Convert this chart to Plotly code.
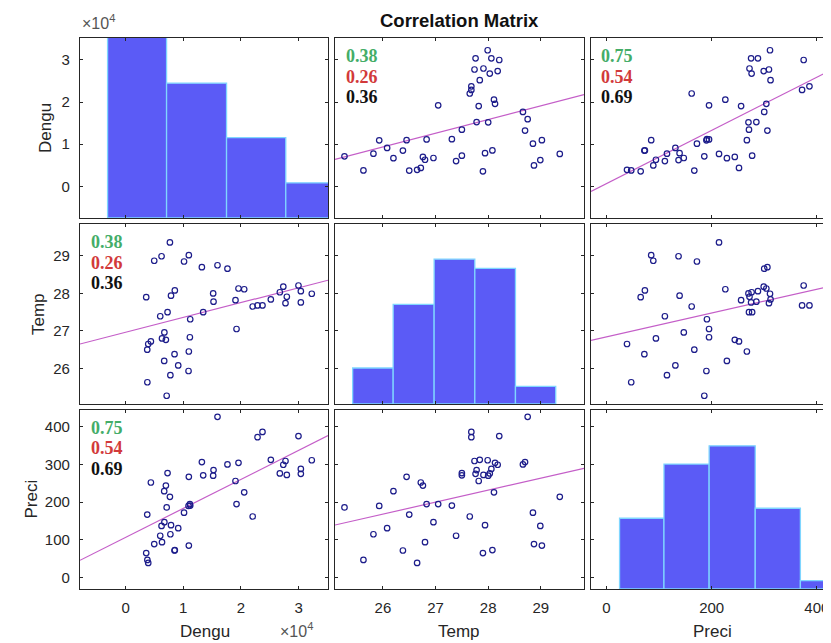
import numpy as np
import plotly.graph_objects as go

# ---------------- data ----------------
dengu = [15940, 22880, 23740, 29980, 25190, 27730, 27350, 32290, 26750, 27960,
         30390, 30390, 13230, 17670, 19580, 15250, 15190, 13460, 10970, 7280,
         4390, 6990, 6700, 7690, 19060, 20570, 19240, 11150, 11210, 10140,
         7130, 22040, 3760, 6730, 6240, 7880, 9130, 6010, 7770, 4970,
         6320, 10970, 8490, 8540, 3580, 3780, 3930, 10920]
temp = [28.75, 27.68, 27.68, 28.21, 27.84, 27.74, 28.18, 27.99, 28.03, 27.91,
        28.06, 27.76, 28.70, 28.66, 28.13, 27.78, 28.00, 27.50, 26.45, 27.50,
        26.72, 26.76, 26.20, 29.36, 27.82, 28.11, 27.05, 26.83, 27.31, 28.85,
        25.27, 27.65, 26.50, 26.96, 28.99, 27.94, 26.08, 27.39, 25.82, 28.87,
        26.80, 29.02, 26.38, 28.08, 27.90, 25.63, 26.65, 25.93]
preci = [426, 372, 386, 375, 312, 309, 299, 311, 276, 272,
         288, 275, 306, 300, 304, 285, 270, 271, 267, 277,
         252, 244, 229, 214, 256, 226, 195, 195, 191, 172,
         186, 162, 167, 147, 137, 139, 131, 111, 115, 89,
         94, 85, 72, 73, 65, 47, 39, 190]

var_names = ["Dengu", "Temp", "Preci"]

# histogram bins (edges) and bar heights shown on the diagonal
dengu_hist_edges = [-3120, 7110, 17510, 27780, 38100]
dengu_hist_counts = [22.5, 16.1, 9.6, 4.2]
temp_hist_edges = [25.425, 26.195, 26.973, 27.746, 28.518, 29.283]
temp_hist_counts = [4.3, 11.9, 17.3, 16.2, 2.1]
preci_hist_edges = [24.8, 109.3, 195.2, 282.9, 368.8, 454.0]
preci_hist_counts = [8.5, 15.0, 17.2, 9.7, 1.0]

# correlation coefficients written in the Dengu panels (green, red, black)
corr_dengu_temp = ["0.38", "0.26", "0.36"]
corr_dengu_preci = ["0.75", "0.54", "0.69"]

# tick labels
dengu_ticks = [0, 10000, 20000, 30000]
dengu_ticktext = ["0", "1", "2", "3"]
temp_ticks = [26, 27, 28, 29]
temp_ticktext = ["26", "27", "28", "29"]
preci_xticks = [0, 200, 400]
preci_yticks = [0, 100, 200, 300, 400]

# ---------------- layout / styling ----------------
OFF = 8                      # page body margin
W, H = 831 - OFF, 643 - OFF  # figure size


def fx(px):
    return (px - OFF) / W


def fy(py):
    return 1 - (py - OFF) / H


col_px = [(80, 328), (335, 584), (591, 831)]
row_px = [(38, 218), (224, 404), (410, 589)]
x_ranges = [[-7900, 35100], [25.09, 29.82], [-29.5, 427]]
y_ranges = [[-7500, 35200], [25.05, 29.85], [-30, 444]]
x_tick = [(dengu_ticks, dengu_ticktext), (temp_ticks, temp_ticktext),
          (preci_xticks, [str(v) for v in preci_xticks])]
y_tick = [(dengu_ticks, dengu_ticktext), (temp_ticks, temp_ticktext),
          (preci_yticks, [str(v) for v in preci_yticks])]
data = [np.array(dengu, float), np.array(temp, float), np.array(preci, float)]
hists = [(dengu_hist_edges, dengu_hist_counts), (temp_hist_edges, temp_hist_counts),
         (preci_hist_edges, preci_hist_counts)]

LC = "#262626"
TICKFONT = dict(family="Liberation Sans, Arial, sans-serif", size=15, color=LC)
MARK = "#1c1c8a"
LINE = "#c45ec8"
FILL = "#5b5bf6"
EDGE = "#7fd6ff"
HIST_MAX = 21.5


def sfx(k):
    return "" if k == 1 else str(k)


fig = go.Figure()
layout = dict(width=W, height=H, margin=dict(l=0, r=0, t=0, b=0),
              plot_bgcolor="white", paper_bgcolor="white", showlegend=False)
annotations = []

for r in range(3):
    for c in range(3):
        k = r * 3 + c + 1
        xa = dict(domain=[fx(col_px[c][0]), min(1.0, fx(col_px[c][1]))], range=x_ranges[c],
                  anchor="y" + sfx(k), showline=True, linecolor=LC, linewidth=1.2,
                  mirror="ticks", ticks="inside", ticklen=3, tickcolor=LC, tickwidth=1,
                  tickvals=x_tick[c][0], ticktext=x_tick[c][1],
                  showticklabels=(r == 2), showgrid=False, zeroline=False,
                  tickfont=TICKFONT, ticklabelstandoff=5)
        ya = dict(domain=[fy(row_px[r][1]), fy(row_px[r][0])], range=y_ranges[r],
                  anchor="x" + sfx(k), showline=True, linecolor=LC, linewidth=1.2,
                  mirror=("ticks" if c < 2 else False), ticks="inside", ticklen=3,
                  tickcolor=LC, tickwidth=1,
                  tickvals=y_tick[r][0], ticktext=y_tick[r][1],
                  showticklabels=(c == 0), showgrid=False, zeroline=False,
                  tickfont=TICKFONT, ticklabelstandoff=6)
        layout["xaxis" + sfx(k)] = xa
        layout["yaxis" + sfx(k)] = ya

        if r == c:
            fig.add_trace(go.Scatter(x=[], y=[], xaxis="x" + sfx(k), yaxis="y" + sfx(k),
                                     hoverinfo="skip"))
            hid = 10 + r
            edges, counts = hists[r]
            edges = np.array(edges, float)
            centers = (edges[:-1] + edges[1:]) / 2
            widths = np.diff(edges)
            fig.add_trace(go.Bar(x=centers, y=counts, width=widths,
                                 xaxis="x" + sfx(k), yaxis="y" + str(hid),
                                 marker=dict(color=FILL, line=dict(color=EDGE, width=1.3))))
            layout["yaxis" + str(hid)] = dict(overlaying="y" + sfx(k), anchor="x" + sfx(k),
                                              range=[0, HIST_MAX], visible=False)
        else:
            xv, yv = data[c], data[r]
            b, a = np.polyfit(xv, yv, 1)
            xs = np.array([x_ranges[c][0], max(x_ranges[c][1], xv.max())])
            fig.add_trace(go.Scatter(x=xs, y=a + b * xs, mode="lines",
                                     xaxis="x" + sfx(k), yaxis="y" + sfx(k),
                                     line=dict(color=LINE, width=1.2)))
            fig.add_trace(go.Scatter(x=xv, y=yv, mode="markers",
                                     xaxis="x" + sfx(k), yaxis="y" + sfx(k),
                                     marker=dict(symbol="circle-open", size=5.5,
                                                 color=MARK, line=dict(width=1.2, color=MARK))))

# correlation texts
corr_panels = {(0, 1): corr_dengu_temp, (0, 2): corr_dengu_preci,
               (1, 0): corr_dengu_temp, (2, 0): corr_dengu_preci}
corr_colors = ["#44ad68", "#d23a3a", "#111111"]
for (r, c), vals in corr_panels.items():
    k = r * 3 + c + 1
    for i, (v, col) in enumerate(zip(vals, corr_colors)):
        annotations.append(dict(text="<b>%s</b>" % v, xref="x%s domain" % sfx(k),
                                yref="y%s domain" % sfx(k), x=0.035, y=0.90 - i * 0.115,
                                xanchor="left", yanchor="middle", showarrow=False,
                                font=dict(family="Liberation Serif, Times New Roman, serif",
                                          size=18, color=col)))

LABFONT = dict(family="Liberation Sans, Arial, sans-serif", size=17, color=LC)
ylab_x = [45, 38, 31]
for r in range(3):
    annotations.append(dict(text=var_names[r], xref="paper", yref="paper",
                            x=fx(ylab_x[r]), y=fy((row_px[r][0] + row_px[r][1]) / 2),
                            textangle=-90, showarrow=False, xanchor="center", yanchor="middle",
                            font=LABFONT))
xlab_x = [205, 459, 712]
for c in range(3):
    annotations.append(dict(text=var_names[c], xref="paper", yref="paper",
                            x=fx(xlab_x[c]), y=fy(631), showarrow=False,
                            xanchor="center", yanchor="middle", font=LABFONT))
EXPFONT = dict(family="Liberation Sans, Arial, sans-serif", size=16, color="#555555")
annotations.append(dict(text="×10<sup>4</sup>", xref="paper", yref="paper",
                        x=fx(80), y=fy(22), showarrow=False, xanchor="left",
                        yanchor="middle", font=EXPFONT))
annotations.append(dict(text="×10<sup>4</sup>", xref="paper", yref="paper",
                        x=fx(278), y=fy(630), showarrow=False, xanchor="left",
                        yanchor="middle", font=EXPFONT))
annotations.append(dict(text="<b>Correlation Matrix</b>", xref="paper", yref="paper",
                        x=fx(459), y=fy(21), showarrow=False, xanchor="center",
                        yanchor="middle",
                        font=dict(family="Liberation Sans, Arial, sans-serif", size=18.5,
                                  color="#111111")))

layout["annotations"] = annotations
fig.update_layout(**layout)
fig.write_html("out.html")
